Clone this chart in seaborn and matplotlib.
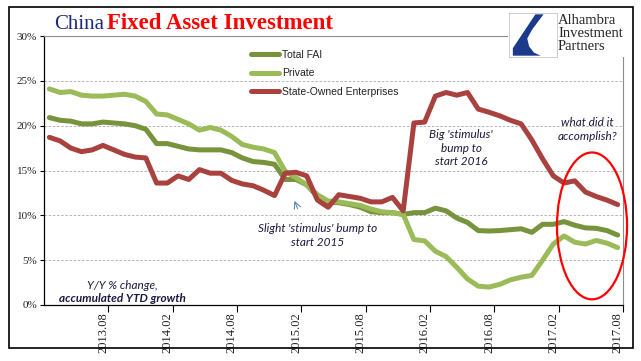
import matplotlib
matplotlib.use("Agg")
import matplotlib.pyplot as plt
from matplotlib.lines import Line2D
from matplotlib.patches import Ellipse, Rectangle, Polygon
import pandas as pd
import seaborn as sns

# monthly YTD data, Jan filled in Excel-style, 2013.03 .. 2017.08
months = pd.period_range("2013-03", "2017-08", freq="M").strftime("%Y.%m").tolist()
tick_labels = ["2013.08", "2014.02", "2014.08", "2015.02", "2015.08",
               "2016.02", "2016.08", "2017.02", "2017.08"]

total_fai = [20.9, 20.6, 20.5, 20.2, 20.2, 20.4, 20.3, 20.2, 20.0, 19.6,
             18.0, 18.0, 17.7, 17.4, 17.3, 17.3, 17.3, 17.0, 16.4, 16.0,
             15.9, 15.7, 14.0, 14.0, 13.4, 12.1, 11.5, 11.4, 11.2, 10.9,
             10.4, 10.3, 10.3, 10.1, 10.3, 10.3, 10.8, 10.5, 9.7, 9.2,
             8.3, 8.25, 8.3, 8.4, 8.5, 8.1, 9.0, 9.0, 9.3, 8.9,
             8.6, 8.55, 8.3, 7.8]
private = [24.1, 23.7, 23.8, 23.4, 23.3, 23.3, 23.4, 23.5, 23.3, 22.7,
           21.3, 21.2, 20.7, 20.2, 19.5, 19.8, 19.5, 18.8, 17.9, 17.6,
           17.4, 17.0, 14.9, 14.2, 13.4, 12.3, 11.6, 11.5, 11.3, 11.1,
           10.7, 10.4, 10.3, 10.1, 7.3, 7.15, 6.0, 5.4, 4.2, 2.9,
           2.1, 2.0, 2.3, 2.8, 3.1, 3.3, 5.0, 6.8, 7.7, 7.0,
           6.8, 7.2, 6.9, 6.4]
soe = [18.7, 18.3, 17.5, 17.1, 17.3, 17.8, 17.3, 16.8, 16.5, 16.4,
       13.6, 13.6, 14.4, 14.0, 15.1, 14.7, 14.7, 13.9, 13.5, 13.3,
       12.8, 12.2, 14.7, 14.8, 14.4, 11.7, 10.9, 12.3, 12.1, 11.9,
       11.5, 11.5, 12.0, 10.5, 20.3, 20.4, 23.3, 23.7, 23.4, 23.7,
       21.85, 21.5, 21.1, 20.6, 20.2, 18.4, 16.3, 14.4, 13.6, 13.85,
       12.6, 12.1, 11.7, 11.2]

series_names = ["Total FAI", "Private", "State-Owned Enterprises"]
colors = {"Total FAI": "#77933C", "Private": "#9BBB59",
          "State-Owned Enterprises": "#A9423F"}

df = pd.DataFrame({"month": months, "Total FAI": total_fai,
                   "Private": private, "State-Owned Enterprises": soe})
df["pos"] = range(len(months))
long = df.melt(id_vars=["month", "pos"], var_name="series", value_name="yoy")

sns.set_theme(style="white")
plt.rcParams["font.family"] = ["Liberation Serif", "DejaVu Serif"]

W, H = 641, 361
fig = plt.figure(figsize=(W / 100, H / 100), dpi=100)
ax = fig.add_axes([44 / W, 1 - 305 / H, 579 / W, 269 / H])

sns.lineplot(data=long, x="pos", y="yoy", hue="series", hue_order=series_names,
             palette=colors, linewidth=3.6, legend=False, ax=ax,
             solid_capstyle="round", solid_joinstyle="round")

ax.set_xlim(-0.5, len(months) - 0.5)
ax.set_ylim(0, 30)
ax.set_xlabel("")
ax.set_ylabel("")

# x axis: ticks between categories, labels on the category
label_pos = [months.index(t) for t in tick_labels]
ax.set_xticks([p + 0.5 for p in label_pos])
ax.set_xticklabels([])
ax.set_xticks(label_pos, minor=True)
ax.set_xticklabels(tick_labels, minor=True, rotation=90, fontsize=9, color="#222222")
ax.tick_params(axis="x", which="major", direction="out", length=5, width=0.8,
               color="black", bottom=True)
ax.tick_params(axis="x", which="minor", length=0, pad=5, bottom=True)

ax.set_yticks(range(0, 31, 5))
ax.set_yticklabels([f"{v}%" for v in range(0, 31, 5)], fontsize=8, color="#222222")
ax.tick_params(axis="y", direction="out", length=3, width=0.8, color="black",
               pad=2, left=True)

ax.grid(axis="y", ls=(0, (3, 2)), color="#ABABAB", lw=0.6)
ax.grid(axis="x", visible=False)
for side in ["left", "bottom"]:
    ax.spines[side].set_color("black")
    ax.spines[side].set_linewidth(0.9)
for side in ["top", "right"]:
    ax.spines[side].set_color("#8C8C8C")
    ax.spines[side].set_linewidth(0.8)

# legend
handles = [Line2D([], [], color=colors[n], lw=3.6, solid_capstyle="round")
           for n in series_names]
leg = ax.legend(handles, series_names, loc="upper left",
                bbox_to_anchor=((251 - 44) / 579, (305 - 50) / 269),
                frameon=False, borderpad=0, borderaxespad=0, handlelength=2.7,
                handletextpad=0.25, labelspacing=0.8,
                prop={"family": "Liberation Sans", "size": 7.5})
for t in leg.get_texts():
    t.set_color("#222222")

# annotations
note = dict(family="Lato", style="italic", fontsize=8.5, color="#1A1A40",
            ha="center", va="center", linespacing=1.3)
ax.text(25.0, 7.75, "Slight 'stimulus' bump to\nstart 2015", **note)
ax.text(38.4, 17.5, "Big 'stimulus'\nbump to\nstart 2016", **note)
ax.text(50.2, 19.6, "what did it\naccomplish?", **note)
ax.text(6.8, 2.2, "Y/Y % change,", **note)
ax.text(6.8, 0.75, "accumulated YTD growth", fontweight="bold", **note)
ax.annotate("", xy=(22.76, 11.9), xytext=(23.25, 10.45),
            arrowprops=dict(arrowstyle="->", color="#4F81BD", lw=0.7))
ax.add_patch(Ellipse((0.9465, 0.294), 0.121, 0.546, transform=ax.transAxes,
                     fill=False, ec="red", lw=1.6, clip_on=False, zorder=5))

# title
fig.text(54 / W, 1 - 29 / H, "China", fontsize=15, color="#1C2A7A",
         va="baseline", ha="left")
fig.text(107 / W, 1 - 29 / H, "Fixed Asset Investment", fontsize=16.5,
         fontweight="bold", color="#FF0000", va="baseline", ha="left")

# logo block
fig.add_artist(Rectangle((508 / W, 1 - 57 / H), 124 / W, 45 / H,
                         transform=fig.transFigure, fc="white", ec="none",
                         zorder=2))
lax = fig.add_axes([509 / W, 1 - 57 / H, 48 / W, 44 / H], zorder=6)
lax.set_xlim(0, 1)
lax.set_ylim(0, 1)
lax.set_xticks([])
lax.set_yticks([])
lax.set_facecolor("white")
for s in lax.spines.values():
    s.set_color("#C8C8C8")
    s.set_linewidth(0.6)
lax.add_patch(Polygon([(0.55, 0.97), (0.72, 0.97), (0.48, 0.62), (0.38, 0.42),
                       (0.42, 0.24), (0.52, 0.1), (0.66, 0.03), (0.08, 0.03),
                       (0.08, 0.2)], closed=True, fc="#1B3A8C", ec="none"))
for i, word in enumerate(["Alhambra", "Investment", "Partners"]):
    fig.text(558 / W, 1 - (21 + 12.5 * i) / H, word, fontsize=10.5,
             color="#262626", va="center", ha="left", zorder=7)

# outer frame
fig.add_artist(Rectangle((9 / W, 1 - 348 / H), 624 / W, 341 / H,
                         transform=fig.transFigure, fill=False, ec="black",
                         lw=1.2, zorder=8))

fig.savefig("out.png", dpi=100)
